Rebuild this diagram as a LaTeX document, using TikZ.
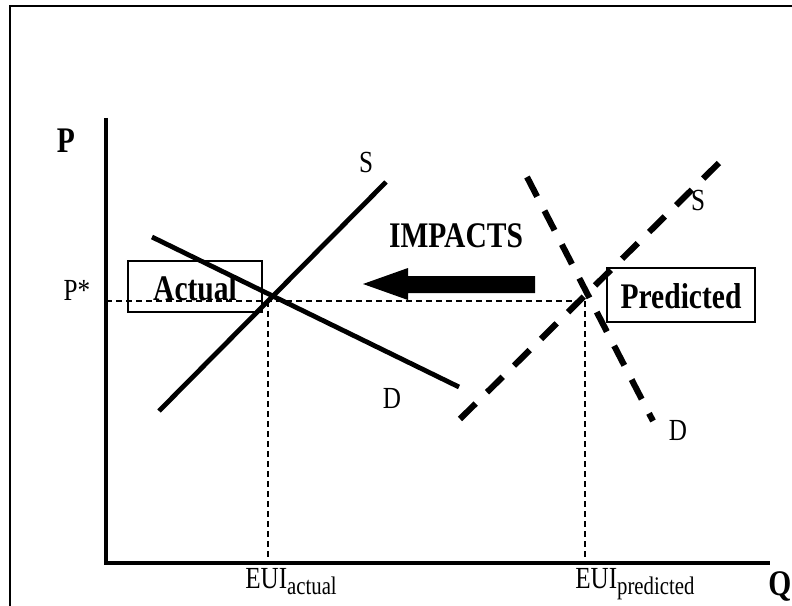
\documentclass[tikz,border=0pt]{standalone}
\usepackage{fontspec}
\setmainfont{Liberation Serif}
\newcommand\hsq[1]{\scalebox{0.82}[1]{#1}}
\newcommand\eui[1]{EUI\raisebox{-4.8pt}{\fontsize{19}{21}\selectfont #1}}
\begin{document}
\begin{tikzpicture}[x=0.75pt,y=-0.75pt,
  lbl/.style={inner sep=0pt,anchor=base,font=\fontsize{23}{26}\selectfont},
  blbl/.style={inner sep=0pt,anchor=base,font=\fontsize{27}{30}\selectfont\bfseries},
  frameline/.style={line width=1.3pt},
  axisline/.style={line width=3.3pt},
  curve/.style={line width=3.6pt},
  dcurve/.style={line width=4.6pt,dash pattern=on 16.5pt off 12pt},
  guide/.style={line width=1.1pt,dash pattern=on 4.5pt off 3pt},
  boxnode/.style={draw,line width=1.6pt,inner sep=0pt},
  bigarrow/.style={fill=black,draw=none}]
\useasboundingbox (0,0) rectangle (792,606);
% frame
\coordinate (fbl) at (10,606);
\coordinate (ftl) at (10,6);
\coordinate (ftr) at (792,6);
\draw[frameline] (fbl) -- (ftl) -- (ftr);
% axes
\coordinate (ytop) at (106,118);
\coordinate (orig) at (106,563);
\coordinate (xend) at (770,563);
\draw[axisline,line join=miter] (ytop) -- (orig) -- (xend);
% guides
\coordinate (pstar) at (106,301);
\coordinate (eqa) at (268,301);
\coordinate (eqp) at (585,301);
\coordinate (qa) at (268,563);
\coordinate (qp) at (585,563);
\draw[guide] (pstar) -- (eqp);
\draw[guide] (eqa) -- (qa);
\draw[guide] (eqp) -- (qp);
% boxes
\node[boxnode,minimum width=100.5pt,minimum height=38pt] (actual) at (195,286.5) {};
\node[boxnode,minimum width=111pt,minimum height=40.5pt] (pred) at (681,295) {};
\node[blbl] (actualtxt) at (195,300) {\hsq{Actual}};
\node[blbl] (predtxt) at (681,308) {\hsq{Predicted}};
% actual curves
\coordinate (sa1) at (159,411);
\coordinate (sa2) at (386,182);
\coordinate (da1) at (152,237);
\coordinate (da2) at (459,387);
\draw[curve] (sa1) -- (sa2);
\draw[curve] (da1) -- (da2);
% predicted curves
\coordinate (sp1) at (460,419);
\coordinate (sp2) at (727,155);
\coordinate (dp1) at (527,177);
\coordinate (dp2) at (653,421);
\draw[dcurve] (sp1) -- (sp2);
\draw[dcurve] (dp1) -- (dp2);
% arrow
\fill[bigarrow] (535,276) -- (408,276) -- (408,268) -- (363,284) -- (408,300) -- (408,293) -- (535,293) -- cycle;
% labels
\node[blbl] (plabel) at (66,152) {\hsq{P}};
\node[lbl] (pstarlbl) at (77,300) {\hsq{P*}};
\node[lbl] (slbl) at (366,172) {\hsq{S}};
\node[lbl] (dlbl) at (392,408) {\hsq{D}};
\node[blbl] (impacts) at (456,247) {\hsq{IMPACTS}};
\node[lbl] (s2lbl) at (698,210) {\hsq{S}};
\node[lbl] (d2lbl) at (678,440) {\hsq{D}};
\node[lbl,anchor=base west] (euia) at (245,588) {\hsq{\eui{actual}}};
\node[lbl,anchor=base west] (euip) at (575,588) {\hsq{\eui{predicted}}};
\node[blbl,anchor=base west] (qlabel) at (768,595) {\hsq{Q}};
\end{tikzpicture}
\end{document}
